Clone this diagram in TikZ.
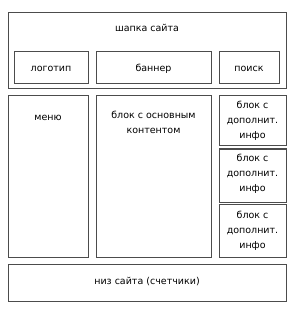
\documentclass[tikz,border=0pt]{standalone}
\usepackage{fontspec}
\setmainfont{DejaVu Sans}
\begin{document}
\begin{tikzpicture}[x=1pt,y=-1pt,
  box/.style={draw=black!70, line width=1pt, fill=white},
  lbl/.style={font=\fontsize{9.5}{15}\selectfont, align=center, inner sep=0pt, text=black}]
\useasboundingbox (0,0) rectangle (300,312);
% header
\draw[box] (8,13) rectangle (286,89);
\node[lbl] (hdr) at (147,28) {шапка сайта};
\draw[box] (14,52) rectangle (88,84);
\node[lbl] (logo) at (51,69) {логотип};
\draw[box] (96,52) rectangle (211,84);
\node[lbl] (ban) at (153.5,69) {баннер};
\draw[box] (219,52) rectangle (279,84);
\node[lbl] (srch) at (249,69) {поиск};
% middle
\draw[box] (8,96) rectangle (88,257);
\node[lbl] (menu) at (48,118) {меню};
\draw[box] (96,96) rectangle (211,257);
\node[lbl, anchor=north] (cont) at (153.5,111) {блок с основным\\контентом};
\draw[box] (219,96) rectangle (286,146);
\node[lbl] (s1) at (252.5,121) {блок с\\дополнит.\\инфо};
\draw[box] (219,149) rectangle (286,202);
\node[lbl] (s2) at (252.5,174) {блок с\\дополнит.\\инфо};
\draw[box] (219,204) rectangle (286,257);
\node[lbl] (s3) at (252.5,231) {блок с\\дополнит.\\инфо};
% footer
\draw[box] (8,264) rectangle (286,301);
\node[lbl] (ftr) at (147,282) {низ сайта (счетчики)};
\end{tikzpicture}
\end{document}
